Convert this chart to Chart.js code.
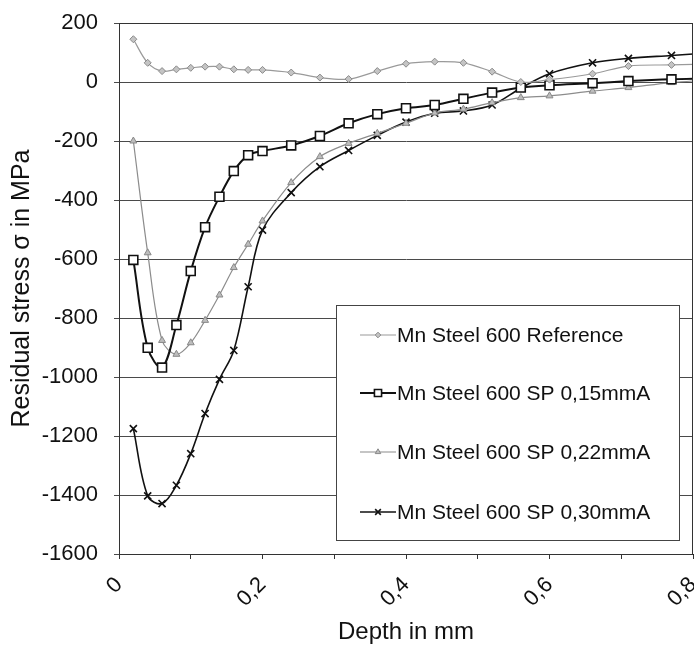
<!DOCTYPE html>
<html>
<head>
<meta charset="utf-8">
<script src="https://cdn.jsdelivr.net/npm/chart.js@4/dist/chart.umd.min.js"></script>
<style>
  html, body { margin: 0; padding: 0; background: #fff; }
  #wrap { width: 694px; height: 647px; }
</style>
</head>
<body>
<div id="wrap"><canvas id="c" width="694" height="647"></canvas></div>
<script>
// depth in mm (last point sits just past the axis end, line runs off the edge)
const depth = [0.02, 0.04, 0.06, 0.08, 0.10, 0.12, 0.14, 0.16, 0.18, 0.20,
  0.24, 0.28, 0.32, 0.36, 0.40, 0.44, 0.48, 0.52, 0.56, 0.60, 0.66, 0.71, 0.77, 0.83];

const stressRef = [145, 65, 37, 43, 48, 52, 52, 43, 41, 41,
  32, 15, 10, 37, 62, 69, 65, 35, 0, 8, 28, 54, 58, 62];
const stressSp015 = [-603, -901, -968, -824, -641, -492, -389, -302, -248, -234,
  -215, -183, -140, -109, -89, -78, -57, -36, -19, -11, -4, 3, 9, 12];
const stressSp022 = [-200, -579, -876, -923, -884, -808, -722, -629, -550, -471,
  -341, -253, -208, -174, -140, -105, -92, -70, -53, -47, -31, -19, -2, 8];
const stressSp030 = [-1175, -1403, -1429, -1367, -1260, -1124, -1008, -910, -694, -502,
  -375, -287, -232, -181, -136, -106, -98, -78, -21, 28, 65, 80, 90, 100];

const seriesNames = ['Mn Steel 600 Reference', 'Mn Steel 600 SP 0,15mmA',
  'Mn Steel 600 SP 0,22mmA', 'Mn Steel 600 SP 0,30mmA'];

const xTicks = [0, 0.2, 0.4, 0.6, 0.8];
const yMin = -1600, yMax = 200, yStep = 200;

function pts(vals) {
  return vals.map((v, i) => ({ x: depth[i], y: v }));
}

const FONT = 'Arial, "Liberation Sans", sans-serif';

// box round the plot + legend inside the plot
const frameAndLegend = {
  id: 'frameAndLegend',
  afterDatasetsDraw(chart) {
    const { ctx, chartArea: a } = chart;
    ctx.save();
    ctx.strokeStyle = '#333';
    ctx.lineWidth = 1;
    ctx.strokeRect(a.left + 0.5, a.top + 0.5, a.right - a.left - 1, a.bottom - a.top);

    // legend box
    const bx = 336, by = 305, bw = 343, bh = 235;
    ctx.fillStyle = '#fff';
    ctx.fillRect(bx, by, bw, bh);
    ctx.strokeStyle = '#444';
    ctx.strokeRect(bx + 0.5, by + 0.5, bw, bh);

    const rows = [335, 393, 452, 512];
    chart.data.datasets.forEach((ds, i) => {
      const y = rows[i];
      ctx.strokeStyle = ds.borderColor;
      ctx.lineWidth = ds.borderWidth;
      ctx.beginPath();
      ctx.moveTo(360, y);
      ctx.lineTo(396, y);
      ctx.stroke();
      ctx.fillStyle = ds.pointBackgroundColor;
      ctx.strokeStyle = ds.pointBorderColor;
      ctx.lineWidth = ds.pointBorderWidth;
      Chart.helpers.drawPoint(ctx, {
        pointStyle: ds.pointStyle, radius: ds.pointRadius * 0.8,
        borderWidth: ds.pointBorderWidth, rotation: 0
      }, 378, y);
      ctx.fillStyle = '#111';
      ctx.font = '21px ' + FONT;
      ctx.textBaseline = 'middle';
      ctx.textAlign = 'left';
      ctx.fillText(seriesNames[i], 397, y + 1);
    });
    ctx.restore();
  }
};

new Chart(document.getElementById('c'), {
  type: 'line',
  data: {
    datasets: [
      {
        label: seriesNames[0], data: pts(stressRef),
        borderColor: '#9a9a9a', borderWidth: 1.2,
        pointStyle: 'rectRot', pointRadius: 3.5,
        pointBackgroundColor: '#c4c4c4', pointBorderColor: '#8a8a8a', pointBorderWidth: 1
      },
      {
        label: seriesNames[1], data: pts(stressSp015),
        borderColor: '#111', borderWidth: 2,
        pointStyle: 'rect', pointRadius: 6.3,
        pointBackgroundColor: '#fff', pointBorderColor: '#111', pointBorderWidth: 1.6
      },
      {
        label: seriesNames[2], data: pts(stressSp022),
        borderColor: '#8c8c8c', borderWidth: 1.2,
        pointStyle: 'triangle', pointRadius: 4,
        pointBackgroundColor: '#bdbdbd', pointBorderColor: '#888', pointBorderWidth: 1
      },
      {
        label: seriesNames[3], data: pts(stressSp030),
        borderColor: '#111', borderWidth: 1.6,
        pointStyle: 'crossRot', pointRadius: 5,
        pointBackgroundColor: '#111', pointBorderColor: '#111', pointBorderWidth: 1.6
      }
    ]
  },
  options: {
    responsive: false,
    animation: false,
    layout: { autoPadding: false, padding: { top: 23, right: 1, left: 0, bottom: 0 } },
    elements: { line: { tension: 0.35, fill: false } },
    plugins: { legend: { display: false }, tooltip: { enabled: false } },
    scales: {
      x: {
        type: 'linear', min: 0, max: 0.8,
        afterFit: s => { s.height = 93; s.paddingRight = 0; s.paddingLeft = 0; },
        afterBuildTicks: s => {
          const t = [];
          for (let i = 0; i <= 8; i++) t.push({ value: i / 10 });
          s.ticks = t;
        },
        ticks: {
          autoSkip: false, minRotation: 45, maxRotation: 45, padding: 13,
          color: '#111', font: { family: FONT, size: 22 },
          callback: v => {
            const hit = xTicks.find(t => Math.abs(t - v) < 1e-6);
            if (hit === undefined) return '';
            return hit === 0 ? '0' : hit.toFixed(1).replace('.', ',');
          }
        },
        grid: { drawOnChartArea: false, color: '#333', tickLength: 5 },
        border: { color: '#222', width: 1 },
        title: {
          display: true, text: 'Depth in mm', color: '#111',
          font: { family: FONT, size: 24, lineHeight: 1.2 }, padding: { top: 0, bottom: 0 }
        }
      },
      y: {
        min: yMin, max: yMax,
        afterFit: s => { s.width = 119; s.paddingTop = 0; s.paddingBottom = 0; },
        ticks: {
          stepSize: yStep, padding: 16, color: '#111',
          font: { family: FONT, size: 22 },
          callback: v => String(v)
        },
        grid: { color: '#4a4a4a', lineWidth: 1, tickLength: 5 },
        border: { color: '#222', width: 1 },
        title: {
          display: true, text: 'Residual stress σ in MPa', color: '#111',
          font: { family: FONT, size: 25, lineHeight: 1.2 }, padding: { top: 7, bottom: 0 }
        }
      }
    }
  },
  plugins: [frameAndLegend]
});
</script>
</body>
</html>
